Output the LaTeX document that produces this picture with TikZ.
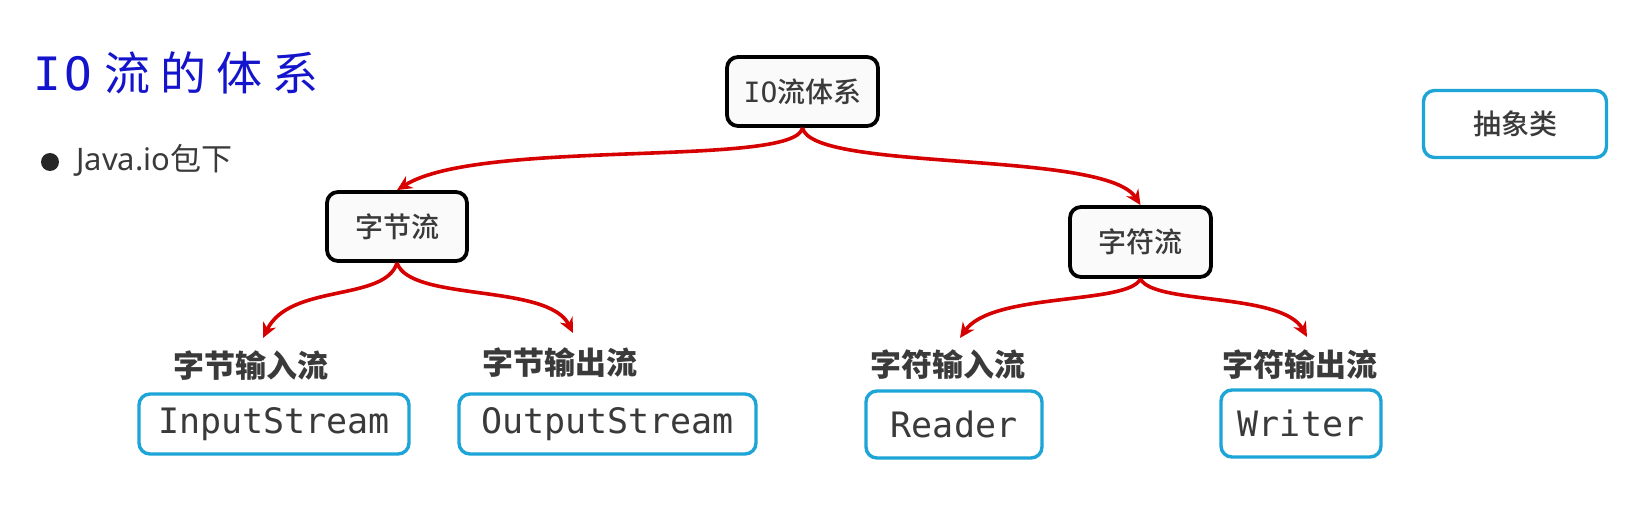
\documentclass[tikz,border=0pt]{standalone}
\usepackage{fontspec}
\setmainfont{Noto Sans CJK SC}
\newfontfamily\cjk{Noto Sans CJK SC}
\newfontfamily\cjkmed{Noto Sans CJK SC Medium}
\newfontfamily\monof{DejaVu Sans Mono}
\newfontfamily\latinf{Noto Sans}
\usetikzlibrary{arrows.meta}
\definecolor{txtgray}{RGB}{58,58,58}
\definecolor{boxcyan}{RGB}{30,165,215}
\definecolor{arrred}{RGB}{215,0,0}
\definecolor{titleblue}{RGB}{20,20,205}
\definecolor{boxfill}{RGB}{250,250,250}
\tikzset{
  blackbox/.style={draw=black, line width=3.8pt, rounded corners=11pt, fill=boxfill,
    inner sep=0pt, text=txtgray, font=\cjkmed\fontsize{28}{32}\selectfont},
  cyanbox/.style={draw=boxcyan, line width=3.4pt, rounded corners=11pt, fill=white,
    inner sep=0pt, text=txtgray},
  monotext/.style={font=\monof\fontsize{35}{40}\selectfont},
  labeltext/.style={inner sep=0pt, text=txtgray, font=\cjk\bfseries\fontsize{31}{36}\selectfont},
  redarrow/.style={draw=arrred, line width=3.6pt, -{Stealth[length=15pt,width=14pt]}},
}
\begin{document}
\begin{tikzpicture}[x=1pt,y=-1pt]
\fill[white] (0,0) rectangle (1647,519);
\useasboundingbox (0,0) rectangle (1647,519);

% title and bullet
\node[anchor=west, inner sep=0pt, text=titleblue, font=\cjk\fontsize{46}{50}\selectfont] (title) at (33,73) {{\monof\fontsize{46}{50}\selectfont\addfontfeatures{LetterSpace=8}IO}\hspace{12pt}{\addfontfeatures{LetterSpace=22}流的体系}};
\fill[black!85] (50,162) circle (9);
\node[anchor=west, inner sep=0pt, text=txtgray, font=\latinf\fontsize{31}{36}\selectfont] (java) at (76,160) {Java.io{\cjk 包下}};

% main nodes
\node[blackbox, minimum width=151pt, minimum height=69pt] (top) at (802.5,91.5) {{\monof IO}流体系};
\node[blackbox, minimum width=140pt, minimum height=69pt] (zjl) at (397,226.5) {字节流};
\node[blackbox, minimum width=141pt, minimum height=70pt] (zfl) at (1140.5,242) {字符流};
\node[cyanbox, minimum width=183pt, minimum height=67pt, font=\cjkmed\fontsize{28}{32}\selectfont] (abs) at (1515,124) {抽象类};

% labels
\node[labeltext] (lin) at (251,366) {字节输入流};
\node[labeltext] (lout) at (560,363) {字节输出流};
\node[labeltext] (lrd) at (948,365) {字符输入流};
\node[labeltext] (lwr) at (1300,365) {字符输出流};

% class boxes
\node[cyanbox, monotext, minimum width=270pt, minimum height=60pt] (ins) at (274,424) {InputStream};
\node[cyanbox, monotext, minimum width=297pt, minimum height=60pt] (outs) at (607.5,424) {OutputStream};
\node[cyanbox, monotext, minimum width=176pt, minimum height=67pt] (rd) at (954,424.5) {Reader};
\node[cyanbox, monotext, minimum width=160pt, minimum height=67pt] (wr) at (1301,423.5) {Writer};

% arrow tips above labels
\coordinate (t1) at (263,338);
\coordinate (t2) at (573,333);
\coordinate (t3) at (960,338);
\coordinate (t4) at (1307,337);

% connectors
\draw[redarrow] (top.south) .. controls (795,168) and (480,138) .. (zjl.north);
\draw[redarrow] (top.south) .. controls (812,172) and (1105,150) .. (zfl.north);
\draw[redarrow] (zjl.south) .. controls (385,302) and (290,283) .. (t1);
\draw[redarrow] (zjl.south) .. controls (410,302) and (548,283) .. (t2);
\draw[redarrow] (zfl.south) .. controls (1128,305) and (992,292) .. (t3);
\draw[redarrow] (zfl.south) .. controls (1153,305) and (1282,292) .. (t4);
\end{tikzpicture}
\end{document}
